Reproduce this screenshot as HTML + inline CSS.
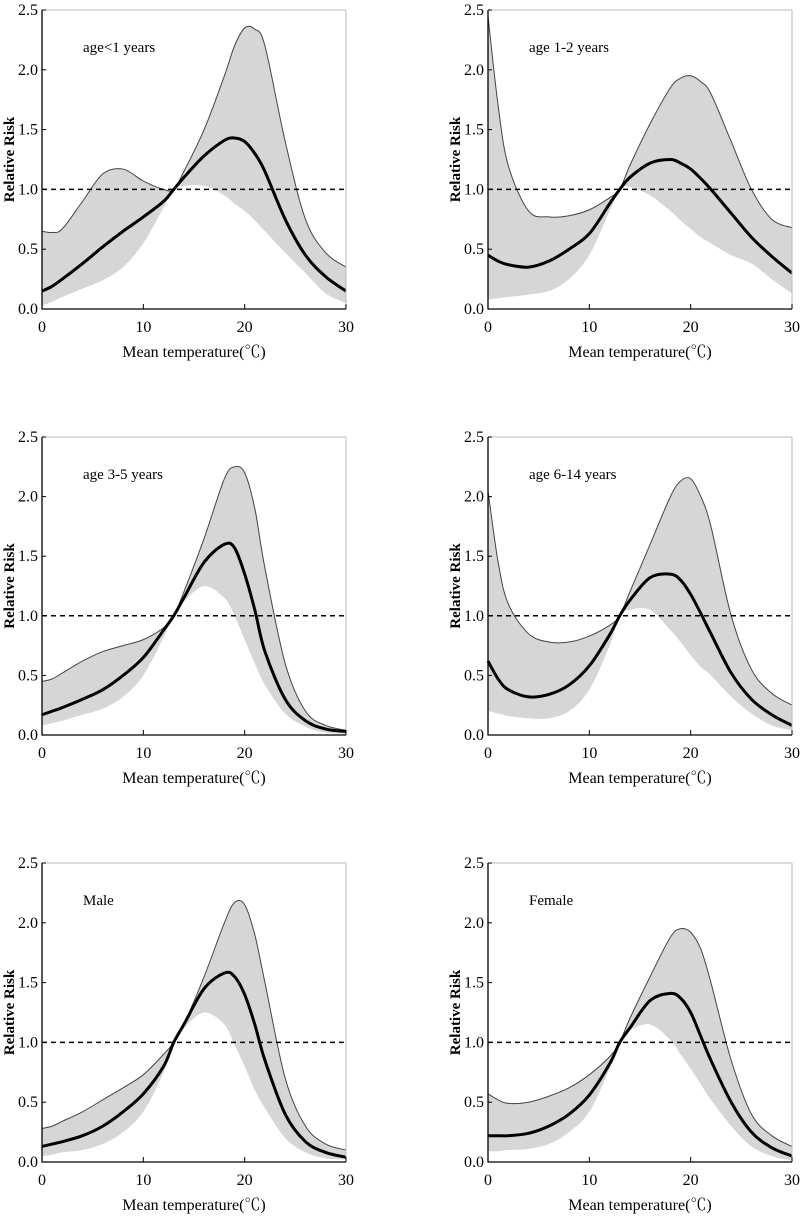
<!DOCTYPE html>
<html><head><meta charset="utf-8"><style>
body{margin:0;background:#fff;}
svg{display:block;font-family:"Liberation Serif","Noto Serif CJK SC",serif;}
</style></head><body>
<svg id="chart" width="800" height="1216" viewBox="0 0 800 1216" xmlns="http://www.w3.org/2000/svg"></svg>
<script>
const temps = [0,1,2,4,6,8,10,12,13,14,16,18,19,20,21,22,24,26,28,30];
const panelTitles = ["age<1 years","age 1-2 years","age 3-5 years","age 6-14 years","Male","Female"];
const rrSeries = [
 [0.15,0.19,0.25,0.38,0.52,0.65,0.77,0.9,1.0,1.1,1.28,1.41,1.43,1.40,1.30,1.15,0.75,0.45,0.27,0.15],
 [0.45,0.40,0.37,0.35,0.40,0.50,0.63,0.88,1.0,1.1,1.22,1.25,1.22,1.17,1.09,1.0,0.8,0.6,0.44,0.3],
 [0.17,0.2,0.23,0.3,0.38,0.5,0.65,0.88,1.0,1.15,1.45,1.6,1.57,1.35,1.05,0.7,0.3,0.12,0.05,0.03],
 [0.62,0.47,0.38,0.32,0.34,0.42,0.58,0.84,1.0,1.13,1.32,1.35,1.3,1.18,1.02,0.85,0.52,0.3,0.17,0.08],
 [0.13,0.15,0.17,0.22,0.3,0.42,0.57,0.8,1.0,1.15,1.45,1.58,1.55,1.4,1.15,0.85,0.4,0.17,0.08,0.04],
 [0.22,0.22,0.22,0.24,0.3,0.4,0.56,0.82,1.0,1.12,1.35,1.41,1.37,1.25,1.05,0.85,0.5,0.25,0.12,0.05]
];
const upperSeries = [
 [0.65,0.64,0.67,0.9,1.13,1.17,1.07,1.0,1.0,1.15,1.5,1.95,2.2,2.35,2.34,2.2,1.4,0.75,0.47,0.35],
 [2.45,1.7,1.2,0.82,0.77,0.78,0.83,0.93,1.0,1.2,1.55,1.85,1.93,1.95,1.9,1.8,1.4,1.0,0.75,0.68],
 [0.45,0.47,0.52,0.62,0.7,0.75,0.8,0.9,1.0,1.2,1.65,2.15,2.25,2.2,1.9,1.4,0.6,0.2,0.08,0.04],
 [2.05,1.45,1.1,0.85,0.78,0.78,0.83,0.92,1.0,1.2,1.6,2.0,2.13,2.15,2.0,1.75,1.0,0.55,0.35,0.25],
 [0.28,0.3,0.34,0.42,0.52,0.62,0.73,0.9,1.0,1.15,1.55,2.0,2.17,2.15,1.9,1.5,0.7,0.3,0.15,0.1],
 [0.57,0.52,0.49,0.5,0.55,0.62,0.73,0.88,1.0,1.2,1.55,1.88,1.95,1.92,1.78,1.5,0.85,0.4,0.22,0.13]
];
const lowerSeries = [
 [0.03,0.06,0.1,0.17,0.24,0.35,0.55,0.85,1.0,1.03,1.03,0.95,0.88,0.82,0.74,0.65,0.47,0.3,0.13,0.05],
 [0.08,0.09,0.1,0.12,0.15,0.25,0.45,0.82,1.0,1.02,0.95,0.82,0.74,0.67,0.6,0.55,0.45,0.38,0.25,0.13],
 [0.08,0.1,0.12,0.17,0.22,0.32,0.5,0.82,1.0,1.12,1.25,1.15,1.0,0.8,0.6,0.42,0.18,0.07,0.02,0.01],
 [0.2,0.18,0.16,0.14,0.14,0.2,0.38,0.75,1.0,1.05,1.05,0.88,0.78,0.67,0.57,0.5,0.32,0.18,0.08,0.04],
 [0.05,0.06,0.08,0.1,0.15,0.25,0.42,0.75,1.0,1.12,1.25,1.15,0.98,0.8,0.6,0.45,0.2,0.08,0.03,0.02],
 [0.09,0.09,0.1,0.11,0.15,0.25,0.42,0.78,1.0,1.1,1.15,1.02,0.9,0.78,0.65,0.52,0.3,0.13,0.05,0.01]
];
const xTicks = [0,10,20,30];
const yTicks = [0.0,0.5,1.0,1.5,2.0,2.5];

const NS="http://www.w3.org/2000/svg";
const svg=document.getElementById('chart');
function el(tag,attrs,parent){const e=document.createElementNS(NS,tag);for(const k in attrs)e.setAttribute(k,attrs[k]);(parent||svg).appendChild(e);return e;}
function smooth(pts){let d='M'+pts[0][0]+','+pts[0][1];for(let i=0;i<pts.length-1;i++){const p0=pts[Math.max(i-1,0)],p1=pts[i],p2=pts[i+1],p3=pts[Math.min(i+2,pts.length-1)];const c1=[p1[0]+(p2[0]-p0[0])/6,p1[1]+(p2[1]-p0[1])/6],c2=[p2[0]-(p3[0]-p1[0])/6,p2[1]-(p3[1]-p1[1])/6];d+=' C'+c1[0]+','+c1[1]+' '+c2[0]+','+c2[1]+' '+p2[0]+','+p2[1];}return d;}
const cols=[[42,346],[488,792]];
const rows=[[10,309],[437,735],[863,1162]];
for(let p=0;p<6;p++){
  const [x0,x1]=cols[p%2],[y0,y1]=rows[Math.floor(p/2)];
  const X=v=>x0+(v/30)*(x1-x0), Y=v=>y1-(v/2.5)*(y1-y0);
  const g=el('g',{});
  
  
  const up=temps.map((t,i)=>[X(t),Y(upperSeries[p][i])]);
  const lo=temps.map((t,i)=>[X(t),Y(lowerSeries[p][i])]).reverse();
  const band=el('path',{d:smooth(up)+' L'+smooth(lo).slice(1)+' Z',fill:'#d6d6d6',stroke:'none'},g);
  
  
  const ul=el('path',{d:smooth(up),fill:'none',stroke:'#444','stroke-width':1},g);
  
  
  const ref=el('line',{x1:x0,x2:x1,y1:Y(1),y2:Y(1),stroke:'#000','stroke-width':1.5,'stroke-dasharray':'5,4'},g);
  
  
  const rr=el('path',{d:smooth(temps.map((t,i)=>[X(t),Y(rrSeries[p][i])])),fill:'none',stroke:'#000','stroke-width':3},g);
  
  
  el('line',{x1:x0,x2:x1,y1:y0,y2:y0,stroke:'#bbb','stroke-width':1},g);
  el('line',{x1:x1,x2:x1,y1:y0,y2:y1,stroke:'#bbb','stroke-width':1},g);
  const ax=el('path',{d:`M${x0},${y0} L${x0},${y1} L${x1},${y1}`,fill:'none',stroke:'#000','stroke-width':1.3},g);
  
  
  xTicks.forEach(t=>{el('line',{x1:X(t),x2:X(t),y1:y1,y2:y1-5,stroke:'#000'},g);
    const tx=el('text',{x:X(t),y:y1+23,'text-anchor':'middle','font-size':16},g);tx.textContent=t;
    
    });
  yTicks.forEach(t=>{el('line',{x1:x0,x2:x0+4,y1:Y(t),y2:Y(t),stroke:'#000'},g);
    const tx=el('text',{x:x0-4,y:Y(t)+5,'text-anchor':'end','font-size':16},g);tx.textContent=t.toFixed(1);
    
    });
  const title=el('text',{x:x0+41,y:y0+42,'font-size':15},g);title.textContent=panelTitles[p];
  
  
  const xl=el('text',{x:(x0+x1)/2,y:y1+48,'text-anchor':'middle','font-size':16},g);xl.textContent='Mean temperature(℃)';
  
  
  const cy=(y0+y1)/2;
  const yl=el('text',{x:x0-28,y:cy,'text-anchor':'middle','font-size':15,'font-weight':'bold',transform:`rotate(-90 ${x0-28} ${cy})`},g);yl.textContent='Relative Risk';
  
  
}
</script>
</body></html>
